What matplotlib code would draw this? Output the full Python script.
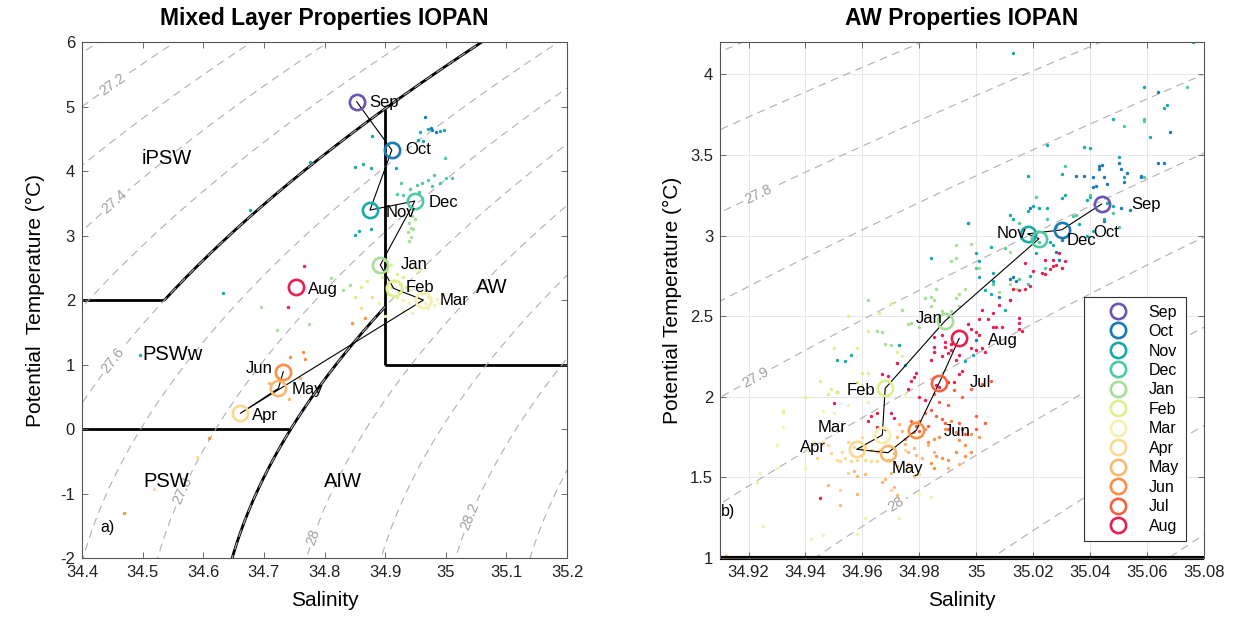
"""
T-S diagrams of mixed-layer and Atlantic Water properties (IOPAN),
monthly means over individual profiles, with sigma-0 isopycnals.
"""
import matplotlib
matplotlib.use("Agg")
import matplotlib.pyplot as plt
from matplotlib.lines import Line2D
from matplotlib.ticker import FuncFormatter
import numpy as np

plt.rcParams["font.family"] = ["Liberation Sans", "DejaVu Sans"]

MONTHS = ["Sep", "Oct", "Nov", "Dec", "Jan", "Feb",
          "Mar", "Apr", "May", "Jun", "Jul", "Aug"]
MONTH_COLORS = ["#6b55b0", "#1a7ab8", "#18aaa8", "#50c8a0", "#a8dc98", "#dcf08c",
                "#f4f0b0", "#fcd890", "#f8b870", "#f89048", "#f86040", "#e82050"]

# ---------------------------------------------------------------------------
# Panel a) mixed layer: monthly means (Jul missing)
# ---------------------------------------------------------------------------
ML_MEAN_S = [34.853, 34.911, 34.875, 34.949, 34.892, 34.914,
             34.963, 34.661, 34.724, 34.732, np.nan, 34.753]
ML_MEAN_T = [5.075, 4.326, 3.395, 3.535, 2.543, 2.180,
             2.000, 0.243, 0.630, 0.890, np.nan, 2.206]

# individual mixed-layer points, per month (S, T)
ML_OCT = [(34.966, 4.83), (34.984, 4.61), (34.975, 4.66), (34.978, 4.64)]
ML_NOV = [(34.970, 4.65), (34.990, 4.62), (34.997, 4.63), (34.878, 4.55),
          (34.958, 4.60), (34.962, 4.47), (34.954, 4.48), (34.850, 4.07),
          (34.863, 4.11), (34.876, 4.05), (34.918, 4.05), (34.850, 3.01),
          (34.857, 3.07), (34.876, 3.10), (34.677, 3.40), (34.776, 4.14),
          (34.496, 1.15), (34.633, 2.11)]
ML_DEC = [(34.980, 3.94), (34.971, 3.86), (34.960, 3.82), (34.953, 3.78),
          (34.941, 3.72), (34.926, 3.82), (34.919, 3.65), (34.930, 3.63),
          (34.955, 3.68), (34.977, 3.76), (34.990, 3.82), (35.000, 3.89),
          (35.010, 3.89), (34.999, 4.20)]
ML_JAN = [(34.940, 3.20), (34.942, 3.12), (34.938, 3.05), (34.943, 2.98),
          (34.940, 2.92), (34.946, 3.10), (34.945, 3.30), (34.950, 3.25),
          (34.695, 1.89), (34.810, 2.34), (34.830, 2.16), (34.842, 2.23),
          (34.722, 1.53), (34.774, 1.63)]
ML_FEB = [(34.900, 2.62), (34.910, 2.55), (34.905, 2.45), (34.920, 2.40),
          (34.930, 2.35), (34.915, 2.30), (34.925, 2.25), (34.935, 2.20),
          (34.910, 2.20), (34.940, 2.15), (34.905, 2.10), (34.920, 2.05),
          (34.895, 2.35), (34.885, 2.45), (34.870, 2.30), (34.860, 2.20),
          (34.850, 2.05), (34.945, 2.50), (34.955, 2.45)]
ML_MAR = [(34.950, 2.05), (34.960, 2.00), (34.965, 1.95), (34.970, 2.05),
          (34.975, 1.98), (34.980, 1.92), (34.985, 2.02), (34.990, 1.95),
          (34.955, 1.90), (34.970, 1.88), (34.940, 1.95), (34.960, 2.10),
          (34.995, 2.10), (34.930, 2.00), (34.930, 1.85), (34.945, 1.80),
          (34.900, 1.75), (34.890, 1.95)]
ML_APR = [(34.878, 2.05), (34.860, 1.88), (34.590, -0.43), (34.519, -0.93)]
ML_MAY = [(34.708, 0.71), (34.741, 0.47), (34.760, 0.79)]
ML_JUN = [(34.845, 1.64), (34.867, 1.72), (34.743, 1.12), (34.764, 1.20),
          (34.768, 1.09), (34.610, -0.14), (34.470, -1.30)]
ML_AUG = [(34.766, 2.53), (34.740, 1.89)]
ML_DOTS = [[], ML_OCT, ML_NOV, ML_DEC, ML_JAN, ML_FEB,
           ML_MAR, ML_APR, ML_MAY, ML_JUN, [], ML_AUG]

# ---------------------------------------------------------------------------
# Panel b) Atlantic Water core: monthly means
# ---------------------------------------------------------------------------
AW_MEAN_S = [35.044, 35.030, 35.018, 35.022, 34.989, 34.968,
             34.967, 34.958, 34.969, 34.979, 34.987, 34.994]
AW_MEAN_T = [3.195, 3.035, 3.010, 2.980, 2.470, 2.052,
             1.763, 1.674, 1.653, 1.794, 2.087, 2.362]

AW_OCT = [(35.043, 3.43), (35.044, 3.44), (35.050, 3.45), (35.051, 3.41),
          (35.053, 3.39), (35.052, 3.33), (35.043, 3.41), (35.041, 3.36),
          (35.045, 3.36), (35.046, 3.32), (35.041, 3.30), (35.042, 3.31),
          (35.064, 3.45), (35.066, 3.45), (35.058, 3.37), (35.058, 3.36),
          (35.035, 3.37), (35.038, 3.37), (35.051, 3.17), (35.054, 3.16),
          (35.045, 3.09), (35.019, 3.17), (35.068, 3.64), (35.064, 3.89),
          (35.012, 2.73), (35.013, 2.74), (35.014, 2.72), (35.012, 2.60),
          (35.000, 2.35), (35.008, 2.62), (35.030, 2.97), (35.029, 2.85),
          (35.028, 2.90)]
AW_NOV = [(35.013, 4.13), (35.076, 4.20), (35.059, 3.92), (35.067, 3.81),
          (35.066, 3.79), (35.048, 3.72), (35.061, 3.61), (35.025, 3.56),
          (35.038, 3.55), (35.040, 3.54), (35.050, 3.49), (35.052, 3.36),
          (35.030, 3.38), (35.018, 3.37), (34.997, 3.08), (35.012, 3.13),
          (35.013, 3.10), (35.018, 3.15), (35.020, 3.18), (35.022, 3.17),
          (35.025, 3.17), (35.030, 3.23), (35.031, 3.25), (35.036, 3.07),
          (35.039, 3.22), (35.040, 3.24), (35.046, 3.20), (35.048, 3.18),
          (35.045, 3.10), (35.039, 3.00), (35.041, 3.03), (35.026, 2.96),
          (35.027, 2.94), (34.984, 2.86), (35.000, 2.89), (35.001, 2.84),
          (35.006, 2.77), (35.006, 2.72), (35.001, 2.74), (35.003, 2.66),
          (35.005, 2.64), (35.019, 2.75), (35.010, 2.54), (35.021, 2.89),
          (34.972, 2.21), (34.973, 2.32), (34.956, 2.26), (34.954, 2.22),
          (34.951, 2.03), (34.975, 2.20), (34.996, 2.22), (34.999, 2.26),
          (35.005, 2.93), (34.997, 3.08), (34.951, 2.23)]
AW_DEC = [(35.074, 3.92), (35.052, 3.68), (35.059, 3.71), (35.059, 3.36),
          (35.031, 3.43), (35.021, 3.24), (35.034, 3.12), (35.035, 3.13),
          (35.048, 3.14), (35.025, 3.10), (35.028, 3.05), (35.015, 3.08),
          (35.022, 2.96), (35.010, 2.92), (35.000, 2.80), (35.006, 2.70),
          (35.015, 2.73), (35.018, 2.70), (35.024, 2.80), (35.050, 3.05),
          (35.040, 3.25), (35.059, 3.72)]
AW_JAN = [(34.991, 2.84), (34.993, 2.86), (34.993, 2.94), (34.962, 2.60),
          (34.974, 2.54), (34.976, 2.45), (34.977, 2.46), (34.980, 2.43),
          (34.982, 2.61), (34.984, 2.62), (34.985, 2.60), (34.984, 2.56),
          (34.986, 2.67), (34.988, 2.53), (34.990, 2.50), (34.991, 2.53),
          (34.993, 2.61), (34.994, 2.56), (34.996, 2.67), (34.994, 2.64),
          (35.001, 2.80), (35.008, 2.65), (35.012, 2.70), (35.014, 2.67),
          (35.030, 2.80), (35.012, 2.90), (34.998, 2.95), (34.965, 2.41),
          (34.967, 2.40), (34.970, 2.32), (34.968, 2.33)]
AW_FEB = [(34.960, 2.15), (34.962, 2.15), (34.960, 2.07), (34.958, 2.09),
          (34.951, 2.03), (34.949, 2.05), (34.962, 2.41), (34.972, 2.28),
          (34.974, 2.25), (34.948, 2.02), (34.958, 2.30), (34.966, 2.52),
          (34.950, 2.30), (34.945, 2.10), (34.940, 2.00), (34.932, 1.91),
          (34.955, 2.50), (34.970, 2.58)]
AW_MAR = [(34.932, 1.90), (34.932, 1.81), (34.946, 1.91), (34.950, 1.90),
          (34.941, 1.67), (34.943, 1.72), (34.940, 1.56), (34.930, 1.56),
          (34.924, 1.53), (34.923, 1.47), (34.945, 1.38), (34.961, 1.25),
          (34.973, 1.25), (34.958, 1.15), (34.946, 1.14), (34.942, 1.12),
          (34.955, 1.95), (34.962, 1.97), (34.975, 2.02), (34.984, 1.38),
          (34.980, 1.40), (34.930, 1.70), (34.925, 1.20), (34.924, 1.53)]
AW_APR = [(34.955, 1.72), (34.957, 1.69), (34.959, 1.68), (34.961, 1.69),
          (34.963, 1.67), (34.965, 1.66), (34.966, 1.67), (34.953, 1.66),
          (34.954, 1.62), (34.956, 1.60), (34.958, 1.61), (34.961, 1.61),
          (34.963, 1.60), (34.965, 1.60), (34.949, 1.65), (34.951, 1.61),
          (34.952, 1.60), (34.946, 1.72), (34.960, 1.75), (34.968, 1.72),
          (34.970, 1.69), (34.952, 1.42), (34.970, 1.42), (34.980, 1.52),
          (34.955, 1.53), (34.948, 1.70), (34.944, 1.62), (34.960, 1.64),
          (34.975, 1.67), (34.912, 1.02)]
AW_MAY = [(34.973, 1.83), (34.974, 1.79), (34.972, 1.75), (34.975, 1.71),
          (34.971, 1.65), (34.969, 1.61), (34.972, 1.57), (34.970, 1.53),
          (34.957, 1.54), (34.958, 1.51), (34.961, 1.52), (34.977, 1.55),
          (34.978, 1.51), (34.979, 1.64), (34.981, 1.62), (34.976, 1.66),
          (34.978, 1.68), (34.948, 1.45), (34.952, 1.33), (34.958, 1.40),
          (34.971, 1.44), (34.972, 1.39), (34.967, 1.47), (34.968, 1.49),
          (34.976, 1.58), (34.985, 1.66), (34.983, 1.70), (34.990, 1.56),
          (34.994, 1.58)]
AW_JUN = [(34.986, 1.63), (34.988, 1.62), (34.990, 1.61), (34.984, 1.59),
          (34.985, 1.56), (34.983, 1.72), (34.985, 1.74), (34.987, 1.75),
          (34.993, 1.78), (34.994, 1.73), (34.996, 1.70), (34.998, 1.77),
          (34.989, 1.80), (34.991, 1.85), (34.998, 1.66), (35.001, 1.75),
          (34.980, 1.85), (34.982, 1.80), (34.978, 1.78), (34.975, 1.74),
          (34.993, 1.66), (34.996, 1.63)]
AW_JUL = [(34.977, 1.85), (34.979, 1.82), (34.982, 1.90), (34.984, 1.92),
          (34.986, 1.88), (34.988, 1.86), (34.989, 1.84), (34.990, 1.80),
          (34.994, 1.84), (34.995, 1.80), (34.996, 1.77), (34.980, 1.79),
          (34.983, 1.82), (35.000, 1.80), (35.000, 1.88), (35.003, 1.84),
          (34.990, 1.95), (34.995, 2.00), (34.998, 2.05), (35.002, 2.08),
          (35.005, 2.10), (34.987, 1.97), (34.985, 2.02), (34.992, 2.04)]
AW_AUG = [(34.963, 1.88), (34.965, 1.90), (34.962, 1.85), (34.965, 1.81),
          (34.968, 1.80), (34.970, 1.90), (34.971, 1.87), (34.950, 1.96),
          (34.945, 1.37), (34.969, 2.13), (34.967, 2.14), (34.972, 2.21),
          (34.977, 2.10), (34.978, 2.12), (34.976, 2.05), (34.979, 2.15),
          (34.986, 2.07), (34.987, 2.06), (34.990, 2.09), (34.992, 2.09),
          (34.994, 2.14), (34.995, 2.16), (34.980, 2.00), (34.982, 1.98),
          (34.988, 2.38), (34.989, 2.34), (34.989, 2.31), (34.990, 2.27),
          (34.991, 2.29), (34.991, 2.33), (34.985, 2.37), (34.985, 2.31),
          (34.985, 2.28), (34.988, 2.25), (34.984, 2.23), (34.998, 2.30),
          (35.000, 2.29), (35.002, 2.30), (35.003, 2.28), (34.994, 2.26),
          (34.993, 2.23), (34.997, 2.45), (34.998, 2.42), (35.000, 2.40),
          (35.001, 2.38), (35.006, 2.43), (35.007, 2.43), (35.009, 2.43),
          (35.015, 2.42), (35.016, 2.41), (35.015, 2.49), (35.015, 2.46),
          (35.008, 2.57), (35.002, 2.54), (35.006, 2.52), (35.001, 2.48),
          (35.004, 2.48), (35.013, 2.67), (35.015, 2.66), (35.017, 2.67),
          (35.019, 2.69), (35.023, 2.77), (35.024, 2.76), (35.026, 2.79),
          (35.028, 2.82), (35.030, 2.80), (35.031, 2.84), (35.029, 2.89),
          (35.027, 2.85), (35.027, 2.81), (35.024, 2.85), (35.017, 2.83),
          (35.020, 2.78), (35.012, 2.60)]
AW_DOTS = [[], AW_OCT, AW_NOV, AW_DEC, AW_JAN, AW_FEB,
           AW_MAR, AW_APR, AW_MAY, AW_JUN, AW_JUL, AW_AUG]

# water-mass definitions (isopycnal boundaries and T/S limits)
SIG_IPSW = 27.6
SIG_AIW = 27.9
T_IPSW = 2.0
T_PSW = 0.0
S_AW = 34.9
T_AW = 1.0

ML_LEVELS = [27.0, 27.1, 27.3, 27.5, 27.7, 27.9, 28.1, 28.3]
ML_LABELLED = [27.2, 27.4, 27.6, 27.8, 28.0, 28.2]
AW_LEVELS = [27.70, 27.75, 27.85, 27.95, 28.05, 28.10]
AW_LABELLED = [27.8, 27.9, 28.0]

# label placement (layout)
ML_LABEL_POS = [(34.874, 5.065, "left"), (34.933, 4.326, "left"), (34.900, 3.36, "left"),
                (34.971, 3.515, "left"), (34.926, 2.543, "left"), (34.934, 2.19, "left"),
                (34.990, 1.99, "left"), (34.681, 0.206, "left"), (34.746, 0.615, "left"),
                (34.7146, 0.94, "right"), None, (34.773, 2.166, "left")]
AW_LABEL_POS = [(35.0544, 3.19, "left"), (35.041, 3.017, "left"), (35.0175, 3.01, "right"),
                (35.0318, 2.966, "left"), (34.9883, 2.486, "right"), (34.9644, 2.04, "right"),
                (34.9545, 1.81, "right"), (34.9472, 1.687, "right"), (34.9703, 1.556, "left"),
                (34.9887, 1.783, "left"), (34.9978, 2.087, "left"), (35.0042, 2.352, "left")]
ML_CLABEL_POS = [(34.452, 5.33), (34.451, 3.55), (34.451, 1.07),
                 (34.565, -0.95), (34.782, -1.67), (35.04, -1.36)]
AW_CLABEL_POS = [(34.923, 3.28), (34.923, 2.10), (34.972, 1.33)]

GREY = "#b0b0b0"


def sigma0(s, t):
    """EOS-80 potential density anomaly at the surface."""
    rw = (999.842594 + 6.793952e-2 * t - 9.095290e-3 * t**2 + 1.001685e-4 * t**3
          - 1.120083e-6 * t**4 + 6.536332e-9 * t**5)
    a = 8.24493e-1 - 4.0899e-3 * t + 7.6438e-5 * t**2 - 8.2467e-7 * t**3 + 5.3875e-9 * t**4
    b = -5.72466e-3 + 1.0227e-4 * t - 1.6546e-6 * t**2
    return rw + a * s + b * s**1.5 + 4.8314e-4 * s**2 - 1000.0


def iso_salinity(sig, t):
    s = np.full_like(t, 35.0, dtype=float)
    for _ in range(25):
        f = sigma0(s, t) - sig
        d = (sigma0(s + 1e-4, t) - sigma0(s - 1e-4, t)) / 2e-4
        s = s - f / d
    return s


def _fmt(v, _pos=None):
    return f"{v:g}"


def _style(ax):
    ax.tick_params(direction="in", top=True, right=True, length=4, width=0.6,
                   labelsize=12, colors="#555555", labelcolor="#222222", pad=5)
    for sp in ax.spines.values():
        sp.set_linewidth(0.8)
        sp.set_color("#555555")
    ax.xaxis.set_major_formatter(FuncFormatter(_fmt))
    ax.yaxis.set_major_formatter(FuncFormatter(_fmt))


def _isopycnals(ax, s_rng, t_rng, levels, labelled, label_pos):
    ss, tt = np.meshgrid(np.linspace(*s_rng, 400), np.linspace(*t_rng, 400))
    sig = sigma0(ss, tt)
    kw = dict(colors=GREY, linewidths=0.8, linestyles=[(0, (7, 5))], zorder=1)
    ax.contour(ss, tt, sig, levels=levels, **kw)
    cs = ax.contour(ss, tt, sig, levels=labelled, **kw)
    lbl = cs.clabel(manual=label_pos, fmt=_fmt, fontsize=10.5,
                    inline=True, inline_spacing=3)
    for t in lbl:
        t.set_color("#a0a0a0")


def _monthly(ax, dots, mean_s, mean_t, label_pos):
    for m, pts in enumerate(dots):
        if pts:
            arr = np.array(pts)
            ax.scatter(arr[:, 0], arr[:, 1], s=6, color=MONTH_COLORS[m],
                       linewidths=0, zorder=2)
    ax.plot(mean_s, mean_t, color="black", lw=0.8, zorder=3)
    for m in range(12):
        if np.isnan(mean_s[m]):
            continue
        ax.plot(mean_s[m], mean_t[m], "o", ms=11, mfc="none",
                mec=MONTH_COLORS[m], mew=1.9, zorder=4)
        x, y, ha = label_pos[m]
        ax.text(x, y, MONTHS[m], ha=ha, va="center", fontsize=12, zorder=5)


fig = plt.figure(figsize=(12.33, 6.17), dpi=100)
fig.patch.set_facecolor("white")

# --------------------------- panel a ---------------------------------------
ax1 = fig.add_axes([0.0665, 0.0956, 0.3934, 0.8363])
ax1.set_xlim(34.4, 35.2)
ax1.set_ylim(-2, 6)
_isopycnals(ax1, (34.3, 35.3), (-2.5, 6.5), ML_LEVELS, ML_LABELLED, ML_CLABEL_POS)

t_up = np.linspace(T_IPSW, 6.5, 300)
s_up = iso_salinity(SIG_IPSW, t_up)
t_lo = np.linspace(-2.5, 3.0, 300)
s_lo = iso_salinity(SIG_AIW, t_lo)
t_top = np.interp(S_AW, s_up, t_up)
t_join = np.interp(S_AW, s_lo, t_lo)
keep = s_lo <= S_AW
# boundaries sit just under the dashed isopycnals, as in the original
bkw = dict(color="black", lw=2.0, zorder=0.9, solid_capstyle="butt")
ax1.plot([34.4, s_up[0]], [T_IPSW, T_IPSW], **bkw)
ax1.plot(s_up, t_up, **bkw)
ax1.plot([34.4, iso_salinity(SIG_AIW, np.array([T_PSW]))[0]], [T_PSW, T_PSW], **bkw)
ax1.plot(np.append(s_lo[keep], S_AW), np.append(t_lo[keep], t_join), **bkw)
ax1.plot([S_AW, S_AW], [T_AW, t_top], **bkw)
ax1.plot([S_AW, 35.2], [T_AW, T_AW], **bkw)

_monthly(ax1, ML_DOTS, ML_MEAN_S, ML_MEAN_T, ML_LABEL_POS)

for name, x, y in [("iPSW", 34.54, 4.2), ("PSWw", 34.549, 1.163), ("PSW", 34.539, -0.82),
                   ("AIW", 34.83, -0.82), ("AW", 35.076, 2.197)]:
    ax1.text(x, y, name, ha="center", va="center", fontsize=14.5, zorder=5)
ax1.text(34.43, -1.53, "a)", ha="left", va="center", fontsize=11.5)

ax1.set_xticks(np.arange(34.4, 35.21, 0.1))
ax1.set_yticks(np.arange(-2, 6.1, 1))
_style(ax1)
ax1.set_xlabel("Salinity", fontsize=15, labelpad=8)
ax1.set_ylabel("Potential  Temperature (\u00b0C)", fontsize=15, labelpad=11)
ax1.set_title("Mixed Layer Properties IOPAN", fontsize=16.5, fontweight="bold", pad=12)

# --------------------------- panel b ---------------------------------------
ax2 = fig.add_axes([0.584, 0.0956, 0.3925, 0.8363])
ax2.set_xlim(34.91, 35.08)
ax2.set_ylim(1, 4.2)
ax2.grid(True, color="#e3e3e3", lw=0.6, zorder=0)
ax2.set_axisbelow(True)
_isopycnals(ax2, (34.9, 35.09), (0.9, 4.3), AW_LEVELS, AW_LABELLED, AW_CLABEL_POS)
s_lo2, s_hi2 = ax2.get_xlim()
ax2.plot([max(S_AW, s_lo2), s_hi2], [T_AW, T_AW], color="black", lw=3.0,
         zorder=2.5, clip_on=False, solid_capstyle="butt")

_monthly(ax2, AW_DOTS, AW_MEAN_S, AW_MEAN_T, AW_LABEL_POS)
ax2.text(34.9103, 1.287, "b)", ha="left", va="center", fontsize=11.5)

ax2.set_xticks(np.arange(34.92, 35.081, 0.02))
ax2.set_yticks(np.arange(1, 4.01, 0.5))
_style(ax2)
ax2.set_xlabel("Salinity", fontsize=15, labelpad=8)
ax2.set_ylabel("Potential Temperature (\u00b0C)", fontsize=15, labelpad=6)
ax2.set_title("AW Properties IOPAN", fontsize=16.5, fontweight="bold", pad=12)

handles = [Line2D([], [], ls="none", marker="o", ms=11, mfc="none",
                  mec=c, mew=1.9) for c in MONTH_COLORS]
leg = ax2.legend(handles, MONTHS, loc="lower right", bbox_to_anchor=(0.963, 0.033),
                 borderaxespad=0.0, fontsize=11.5, frameon=True, fancybox=False,
                 edgecolor="#333333", framealpha=1.0, labelspacing=0.28,
                 handlelength=3.3, handletextpad=0.3, borderpad=0.45)
leg.get_frame().set_linewidth(0.8)
leg.set_zorder(6)

fig.savefig("out.png", dpi=100, facecolor="white")
